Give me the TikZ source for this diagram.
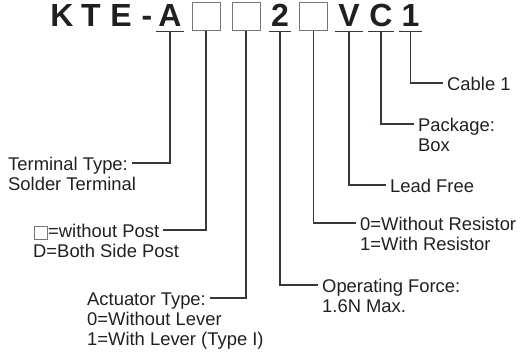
\documentclass[tikz,border=0pt]{standalone}
\usepackage{fontspec}
\setmainfont{Liberation Sans}
\usetikzlibrary{positioning}

\definecolor{inkdark}{HTML}{231F20}
\definecolor{leadgray}{HTML}{3E3636}
\definecolor{boxgray}{HTML}{7A7474}

\newcommand{\blankbox}{{\setlength\fboxsep{0pt}\setlength\fboxrule{0.8pt}%
  \raisebox{-1.5pt}{\fcolorbox{boxgray}{white}{\rule{0pt}{12.4pt}\hspace{12.4pt}}}}}

\tikzset{
  code/.style={font=\fontsize{32}{32}\selectfont\bfseries, text=inkdark,
    anchor=base, inner xsep=0pt, inner ysep=4pt, text depth=0pt, minimum width=25pt},
  slot/.style={draw=boxgray, line width=1pt, minimum width=28pt, minimum height=28pt, inner sep=0pt},
  lbl/.style={font=\fontsize{18.4}{19.5}\selectfont, text=inkdark, anchor=west,
    inner xsep=4pt, inner ysep=0pt, text height=15pt, text depth=0pt},
  lead/.style={draw=leadgray, line width=1.1pt},
}

\begin{document}
\begin{tikzpicture}[x=1pt, y=-1pt]
\useasboundingbox (0, 0) rectangle (522, 353);
        % The part number
        \node[code] at (62, 27)    (k)    {K};
        \node[code] at (91, 27)    (t)    {T};
        \node[code] at (121, 27)   (e)    {E};
        \node[code] at (147, 27)   (dash) {-};
        \node[code, minimum width=28pt] at (170, 27) (a) {A};
        \node[slot] at (206, 16.5)   (boxa) {};
        \node[slot] at (246, 16.5)   (boxb) {};
        \node[code, minimum width=22pt] at (280, 27) (two) {2};
        \node[slot] at (313.5, 16.5) (boxc) {};
        \node[code, minimum width=27pt] at (349, 27) (v) {V};
        \node[code] at (381, 27)   (c)    {C};
        \node[code, minimum width=23pt] at (410.5, 27) (one) {1};
        \foreach \n in {a, two, v, c, one}
            \draw[lead] (\n.south west) -- (\n.south east);
        % Labels on the left
        \node[lbl] at (4, 163)   (term1) {Terminal Type:};
        \node[lbl, below right=4.5pt and 0pt of term1.south west] (term2) {Solder Terminal};
        \node[lbl] at (30, 230)  (post1) {\blankbox=without Post};
        \node[lbl, below right=4.5pt and 0pt of post1.south west, xshift=-1pt] (post2) {D=Both Side Post};
        \node[lbl] at (83, 298)  (act1)  {Actuator Type:};
        \node[lbl, below right=4.5pt and 0pt of act1.south west] (act2) {0=Without Lever};
        \node[lbl, below right=4.5pt and 0pt of act2.south west] (act3) {1=With Lever (Type I)};
        % Labels on the right
        \node[lbl] at (443, 83)  (cab1)   {Cable 1};
        \node[lbl] at (414, 124) (pack1)  {Package:};
        \node[lbl, below right=4.5pt and 0pt of pack1.south west] (pack2) {Box};
        \node[lbl] at (386, 185) (free1)  {Lead Free};
        \node[lbl] at (356, 223) (res1)   {0=Without Resistor};
        \node[lbl, below right=4.5pt and 0pt of res1.south west] (res2) {1=With Resistor};
        \node[lbl] at (318, 285) (force1) {Operating Force:};
        \node[lbl, below right=4.5pt and 0pt of force1.south west] (force2) {1.6N Max.};
        % Connect the code to the labels
        \draw[lead]
            (a.south)    |- (term1.east)
            (boxa.south) |- (post1.east)
            (boxb.south) |- (act1.east)
            (two.south)  |- (force1.west)
            (boxc.south) |- (res1.west)
            (v.south)    |- (free1.west)
            (c.south)    |- (pack1.west)
            (one.south)  |- (cab1.west);
\end{tikzpicture}
\end{document}
